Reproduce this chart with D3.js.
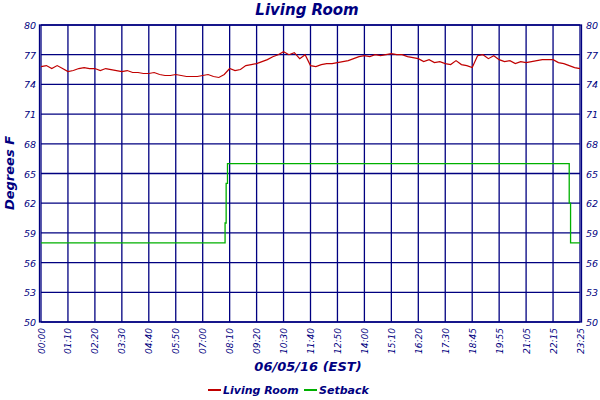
<!DOCTYPE html>
<html><head><meta charset="utf-8">
<script src="https://cdn.jsdelivr.net/npm/d3@7"></script>
<style>body{margin:0;background:#fff}text{font-family:"DejaVu Sans",sans-serif;font-style:italic;fill:#000080}</style>
</head><body><svg id="c" width="600" height="400"></svg>
<script>
// tick labels along the time axis (one per grid column)
var timeLabels = ["00:00","01:10","02:20","03:30","04:40","05:50","07:00","08:10","09:20","10:30","11:40",
  "12:50","14:00","15:10","16:20","17:30","18:45","19:55","21:05","22:15","23:25"];
var yTicks = [50,53,56,59,62,65,68,71,74,77,80];
// living room temperature, 5 samples per tick interval
var livingRoom = [
  75.8,75.9,75.6,75.9,75.6, 75.3,75.4,75.6,75.7,75.6, 75.6,75.4,75.6,75.5,75.4,
  75.3,75.4,75.2,75.2,75.1, 75.1,75.2,75.0,74.9,74.9, 75.0,74.9,74.8,74.8,74.8,
  74.9,75.0,74.8,74.7,75.0, 75.6,75.4,75.5,75.9,76.0, 76.1,76.3,76.5,76.8,77.0,
  77.3,77.0,77.2,76.6,77.0, 75.9,75.8,76.0,76.1,76.1, 76.2,76.3,76.4,76.6,76.8,
  76.9,76.8,77.0,76.9,77.0, 77.1,77.0,77.0,76.8,76.7, 76.6,76.3,76.5,76.2,76.3,
  76.1,76.0,76.4,76.0,75.9, 75.7,76.9,77.0,76.6,76.9, 76.5,76.3,76.4,76.1,76.3,
  76.2,76.3,76.4,76.5,76.5, 76.5,76.2,76.1,75.9,75.7, 75.6];
// setback steps: position (in tick units) and setpoint
var setbackPos = [0, 6.83, 6.87, 6.92, 19.6, 19.65, 20];
var setbackVal = [58, 60, 64, 66, 62, 58, 58];

var svg = d3.select("#c");
var L = 41, R = 580, T = 25, B = 322;
var x = d3.scaleLinear().domain([0, 20]).range([L, R]);
var y = d3.scaleLinear().domain([50, 80]).range([B, T]);
var navy = "#000080";

// grid
svg.append("g").selectAll("line").data(d3.range(21)).join("line")
  .attr("x1", d => x(d)).attr("x2", d => x(d)).attr("y1", T).attr("y2", B)
  .attr("stroke", navy).attr("stroke-width", 1.3);
svg.append("g").selectAll("line").data(yTicks).join("line")
  .attr("x1", L).attr("x2", R).attr("y1", d => y(d)).attr("y2", d => y(d))
  .attr("stroke", navy).attr("stroke-width", 1.3);
svg.append("rect").attr("x", L - 1.5).attr("y", T).attr("width", R - L + 3).attr("height", B - T)
  .attr("fill", "none").attr("stroke", navy).attr("stroke-width", 1.3);

// y labels both sides
svg.append("g").selectAll("text").data(yTicks).join("text")
  .attr("x", L - 5).attr("y", d => y(d) + 4).attr("text-anchor", "end")
  .attr("font-size", 9.5).text(d => d);
svg.append("g").selectAll("text").data(yTicks).join("text")
  .attr("x", R + 6).attr("y", d => y(d) + 4).attr("font-size", 9.5).text(d => d);

// x labels rotated
svg.append("g").selectAll("text").data(timeLabels).join("text")
  .attr("transform", (d, i) => "translate(" + (x(i) + 3.5) + "," + (B + 6) + ") rotate(-90)")
  .attr("text-anchor", "end").attr("font-size", 9).text(d => d);

// setback step line
var sbPts = [];
setbackPos.forEach(function(p, i) {
  if (i > 0) sbPts.push([p, setbackVal[i - 1]]);
  sbPts.push([p, setbackVal[i]]);
});
svg.append("path").attr("d", d3.line().x(d => x(d[0])).y(d => y(d[1]))(sbPts))
  .attr("fill", "none").attr("stroke", "#00b000").attr("stroke-width", 1.3);

// temperature line
svg.append("path")
  .attr("d", d3.line().x((d, i) => x(i / 5)).y(d => y(d))(livingRoom))
  .attr("fill", "none").attr("stroke", "#c00000").attr("stroke-width", 1.2);

// titles
svg.append("text").attr("x", 307).attr("y", 15).attr("text-anchor", "middle")
  .attr("font-size", 15).attr("font-weight", "bold").text("Living Room");
svg.append("text").attr("x", 308).attr("y", 371).attr("text-anchor", "middle")
  .attr("font-size", 13).attr("font-weight", "bold").text("06/05/16 (EST)");
svg.append("text").attr("transform", "translate(14,173) rotate(-90)").attr("text-anchor", "middle")
  .attr("font-size", 13).attr("font-weight", "bold").text("Degrees F");

// legend
var leg = [["Living Room", "#c00000", 208], ["Setback", "#00b000", 304]];
leg.forEach(function(d) {
  svg.append("line").attr("x1", d[2]).attr("x2", d[2] + 13).attr("y1", 390).attr("y2", 390)
    .attr("stroke", d[1]).attr("stroke-width", 2);
  svg.append("text").attr("x", d[2] + 15).attr("y", 394).attr("font-size", 11)
    .attr("font-weight", "bold").text(d[0]);
});
</script></body></html>
